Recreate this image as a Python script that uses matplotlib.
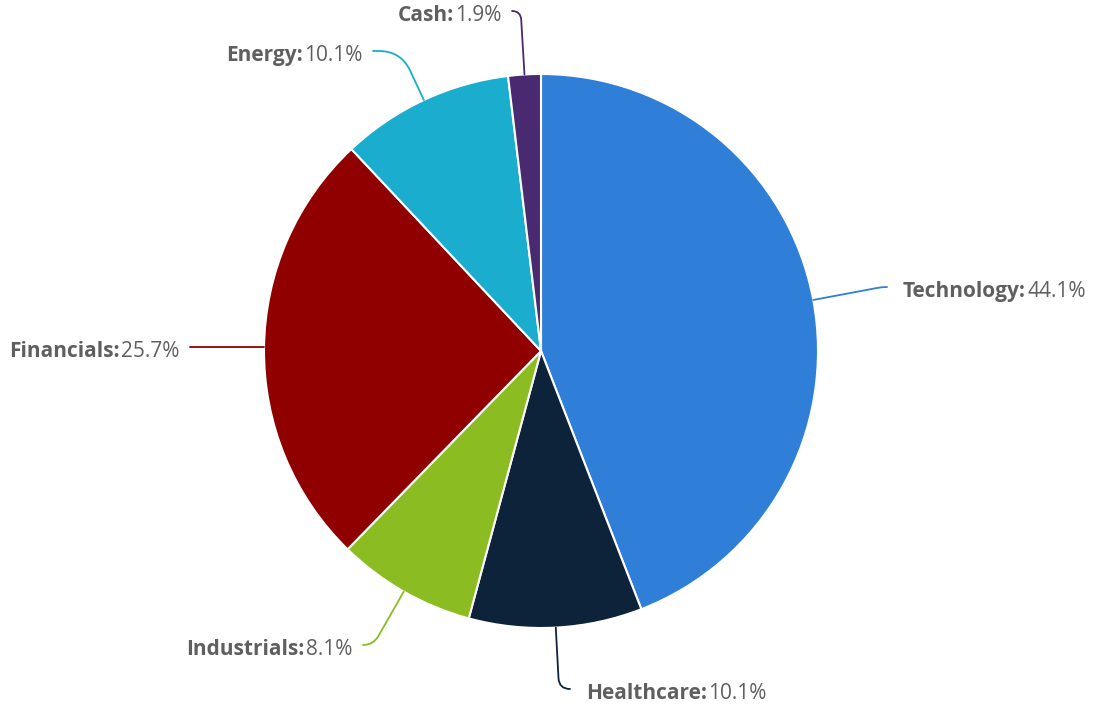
import matplotlib
matplotlib.use('Agg')
import matplotlib.pyplot as plt
import numpy as np
from matplotlib.path import Path
from matplotlib.patches import PathPatch

categories = ['Technology', 'Healthcare', 'Industrials', 'Financials', 'Energy', 'Cash']
values = [44.1, 10.1, 8.1, 25.7, 10.1, 1.9]
colors = ['#2f7ed8', '#0d233a', '#8bbc21', '#910000', '#1aadce', '#492970']

W, H = 1099, 710
fig = plt.figure(figsize=(W / 100, H / 100), dpi=100)
ax = fig.add_axes([0, 0, 1, 1])
CX, CY, R = 541, H - 351, 277
wedges, _ = ax.pie(values, colors=colors, startangle=90, counterclock=False,
                   center=(CX, CY), radius=R,
                   wedgeprops=dict(edgecolor='white', linewidth=1.5))
ax.set_xlim(0, W)
ax.set_ylim(0, H)
ax.set_aspect('equal')
ax.axis('off')

# layout: end points of the connectors (pixel coords, y down)
anchors = [(887, 287), (570, 689), (363, 645), (190, 347), (373, 51), (512, 11)]
TEXT_COLOR = '#5f5f5f'
FONT = 'Open Sans'
FS = 15
GAP = 1

renderer = fig.canvas.get_renderer()

for i, w in enumerate(wedges):
    ang = np.deg2rad((w.theta1 + w.theta2) / 2)
    ux, uy = np.cos(ang), np.sin(ang)
    p0 = (CX + R * ux, CY + R * uy)
    axp, ayp = anchors[i]
    p3 = (axp, H - ayp)
    side = 1 if p3[0] > CX else -1
    if abs(uy) < 0.1:
        dy = p3[1] - CY
        ex = CX + np.sign(ux) * np.sqrt(R ** 2 - dy ** 2)
        verts = [(ex, p3[1]), p3]
        codes = [Path.MOVETO, Path.LINETO]
    else:
        t = (p3[1] - p0[1]) / uy
        C = (p0[0] + ux * t, p0[1] + uy * t)
        hd = abs(p3[0] - C[0])
        r = min(22, hd, t * 0.6)
        verts = [p0, (C[0] - ux * r, C[1] - uy * r), C, (C[0] + side * r, C[1]), p3]
        codes = [Path.MOVETO, Path.LINETO, Path.CURVE3, Path.CURVE3, Path.LINETO]
    ax.add_patch(PathPatch(Path(verts, codes), fill=False, edgecolor=colors[i],
                           linewidth=1.3, capstyle='round'))

    name = categories[i] + ':'
    val = f'{values[i]:.1f}%'
    ty = H - (ayp + 10)
    if side > 0:
        tx = axp + 16
        t1 = ax.text(tx, ty, name, ha='left', va='baseline', fontsize=FS,
                     fontweight='bold', color=TEXT_COLOR, family=FONT)
        wpx = t1.get_window_extent(renderer).width
        ax.text(tx + wpx + GAP, ty, val, ha='left', va='baseline', fontsize=FS,
                color=TEXT_COLOR, family=FONT)
    else:
        tx = axp - 11
        t2 = ax.text(tx, ty, val, ha='right', va='baseline', fontsize=FS,
                     color=TEXT_COLOR, family=FONT)
        wpx = t2.get_window_extent(renderer).width
        ax.text(tx - wpx - GAP, ty, name, ha='right', va='baseline', fontsize=FS,
                fontweight='bold', color=TEXT_COLOR, family=FONT)

fig.savefig('out.png', dpi=100)
